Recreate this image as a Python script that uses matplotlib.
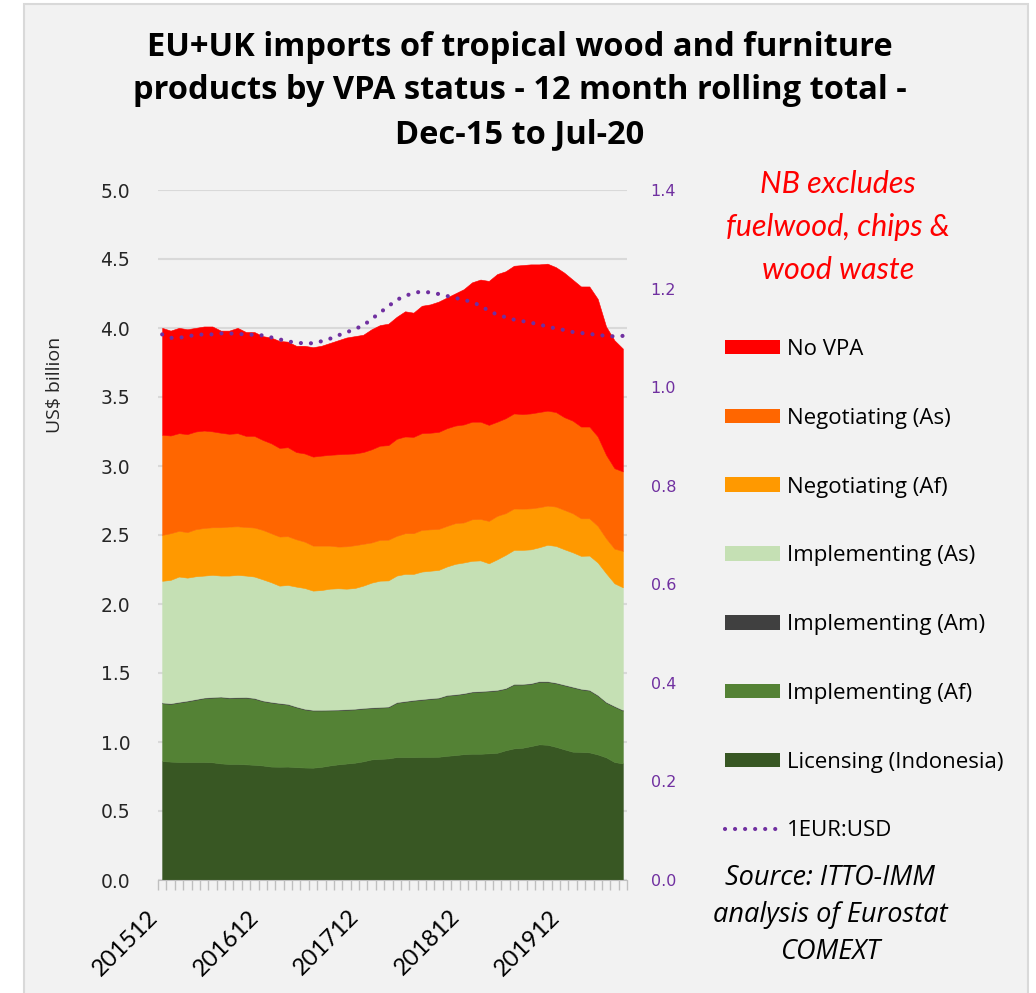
import numpy as np
import matplotlib
matplotlib.use("Agg")
import matplotlib.pyplot as plt
import matplotlib.transforms as mtransforms
from matplotlib.patches import Patch, Rectangle
from matplotlib.lines import Line2D

# 12 month rolling totals, Dec-15 .. Jul-20 (56 months), US$ billion
licensing_indonesia = [
    0.862, 0.858, 0.855, 0.855, 0.855, 0.855, 0.853, 0.845, 0.841, 0.841,
    0.838, 0.835, 0.830, 0.822, 0.821, 0.822, 0.818, 0.815, 0.814, 0.820,
    0.830, 0.838, 0.844, 0.850, 0.860, 0.874, 0.878, 0.881, 0.891, 0.891,
    0.891, 0.892, 0.892, 0.893, 0.900, 0.905, 0.912, 0.915, 0.915, 0.918,
    0.922, 0.940, 0.954, 0.958, 0.970, 0.983, 0.980, 0.965, 0.947, 0.930,
    0.928, 0.925, 0.910, 0.889, 0.855, 0.845]
implementing_af = [
    0.419, 0.418, 0.431, 0.440, 0.451, 0.462, 0.468, 0.479, 0.477, 0.479,
    0.483, 0.479, 0.466, 0.464, 0.457, 0.449, 0.434, 0.421, 0.414, 0.408,
    0.399, 0.392, 0.389, 0.386, 0.382, 0.372, 0.371, 0.371, 0.393, 0.401,
    0.409, 0.414, 0.420, 0.424, 0.436, 0.436, 0.437, 0.446, 0.449, 0.450,
    0.451, 0.446, 0.462, 0.458, 0.451, 0.453, 0.456, 0.461, 0.464, 0.466,
    0.453, 0.448, 0.426, 0.397, 0.401, 0.383]
implementing_am = [0.005] * 56
implementing_as = [
    0.882, 0.894, 0.908, 0.891, 0.890, 0.884, 0.885, 0.877, 0.883, 0.886,
    0.880, 0.880, 0.878, 0.867, 0.850, 0.862, 0.869, 0.875, 0.864, 0.868,
    0.877, 0.879, 0.873, 0.875, 0.886, 0.904, 0.915, 0.914, 0.917, 0.921,
    0.913, 0.924, 0.924, 0.925, 0.931, 0.945, 0.947, 0.947, 0.947, 0.922,
    0.946, 0.965, 0.971, 0.971, 0.970, 0.970, 0.988, 0.990, 0.981, 0.974,
    0.963, 0.973, 0.960, 0.932, 0.889, 0.888]
negotiating_af = [
    0.333, 0.338, 0.331, 0.330, 0.341, 0.345, 0.345, 0.350, 0.355, 0.352,
    0.352, 0.355, 0.358, 0.355, 0.356, 0.353, 0.343, 0.336, 0.326, 0.322,
    0.312, 0.302, 0.307, 0.310, 0.303, 0.291, 0.296, 0.295, 0.288, 0.295,
    0.295, 0.302, 0.300, 0.297, 0.294, 0.295, 0.290, 0.301, 0.300, 0.307,
    0.315, 0.302, 0.300, 0.299, 0.297, 0.290, 0.284, 0.285, 0.285, 0.283,
    0.272, 0.270, 0.265, 0.253, 0.251, 0.264]
negotiating_as = [
    0.725, 0.708, 0.708, 0.710, 0.708, 0.706, 0.695, 0.685, 0.672, 0.675,
    0.660, 0.664, 0.652, 0.652, 0.642, 0.645, 0.632, 0.639, 0.645, 0.652,
    0.658, 0.669, 0.670, 0.665, 0.665, 0.675, 0.682, 0.685, 0.703, 0.701,
    0.698, 0.701, 0.700, 0.703, 0.708, 0.707, 0.710, 0.707, 0.705, 0.696,
    0.682, 0.688, 0.689, 0.685, 0.688, 0.690, 0.688, 0.685, 0.672, 0.671,
    0.665, 0.665, 0.648, 0.605, 0.583, 0.576]
no_vpa = [
    0.775, 0.760, 0.763, 0.760, 0.751, 0.754, 0.760, 0.740, 0.748, 0.763,
    0.753, 0.753, 0.752, 0.766, 0.775, 0.765, 0.770, 0.780, 0.793, 0.796,
    0.810, 0.826, 0.843, 0.850, 0.850, 0.870, 0.874, 0.880, 0.884, 0.907,
    0.900, 0.923, 0.930, 0.944, 0.947, 0.958, 0.980, 1.010, 1.030, 1.043,
    1.070, 1.065, 1.070, 1.080, 1.080, 1.070, 1.065, 1.050, 1.047, 1.022,
    1.015, 1.015, 0.997, 0.930, 0.927, 0.890]
eur_usd = [
    1.107, 1.100, 1.100, 1.103, 1.106, 1.107, 1.107, 1.109, 1.109, 1.108,
    1.107, 1.106, 1.105, 1.101, 1.097, 1.093, 1.090, 1.089, 1.089, 1.093,
    1.098, 1.105, 1.111, 1.118, 1.125, 1.138, 1.151, 1.164, 1.177, 1.185,
    1.191, 1.194, 1.192, 1.189, 1.185, 1.181, 1.177, 1.173, 1.165, 1.155,
    1.147, 1.142, 1.137, 1.134, 1.131, 1.127, 1.123, 1.119, 1.116, 1.112,
    1.110, 1.108, 1.106, 1.104, 1.103, 1.104]

tick_labels = ["201512", "201612", "201712", "201812", "201912"]
tick_pos = [0, 12, 24, 36, 48]

colors = ["#385723", "#548235", "#404040", "#c5e0b4", "#ff9900", "#ff6600", "#ff0000"]
purple = "#7030a0"
dots = (0, (0.01, 2.4))

W, H = 1036, 993
fig = plt.figure(figsize=(W / 100, H / 100), dpi=100, facecolor="white")
fig.patches.append(Rectangle((24 / W, -0.01), 1004 / W, 1 - 4 / H + 0.01,
                             transform=fig.transFigure, facecolor="#f2f2f2",
                             edgecolor="#d9d9d9", lw=1.5, zorder=-10))

ax = fig.add_axes([158 / W, 113 / H, 469 / W, 690 / H])
ax.patch.set_visible(False)
x = np.arange(len(no_vpa))
ax.stackplot(x, licensing_indonesia, implementing_af, implementing_am, implementing_as,
             negotiating_af, negotiating_as, no_vpa, colors=colors,
             edgecolor="face", linewidth=0.4)
ax.set_xlim(-0.5, len(x) - 0.5)
ax.set_ylim(0, 5)
yt = np.arange(0, 5.01, 0.5)
ax.set_yticks(yt)
ax.set_yticklabels([f"{v:.1f}" for v in yt], fontsize=13.5, color="#262626",
                   family="DejaVu Sans")
ax.tick_params(axis="y", length=0, pad=20)
ax.grid(axis="y", color="#d9d9d9", lw=1.5)
ax.set_axisbelow(True)

ax.set_xticks(tick_pos)
ax.set_xticklabels(tick_labels, rotation=45, ha="right", va="top",
                   fontsize=17, family="Lato")
shift = mtransforms.ScaledTranslation(5 / 100, 0, fig.dpi_scale_trans)
for lbl in ax.get_xticklabels():
    lbl.set_transform(lbl.get_transform() + shift)
ax.set_xticks(np.arange(-0.5, len(x), 1), minor=True)
ax.tick_params(axis="x", which="major", length=0, pad=19)
ax.tick_params(axis="x", which="minor", length=7, color="#bfbfbf", width=1)
for s in ["top", "left", "right"]:
    ax.spines[s].set_visible(False)
ax.spines["bottom"].set_color("#bfbfbf")

ax2 = ax.twinx()
ax2.plot(x, eur_usd, color=purple, lw=3, linestyle=dots, dash_capstyle="round")
ax2.set_ylim(0, 1.4)
rt = np.arange(0, 1.41, 0.2)
ax2.set_yticks(rt)
ax2.set_yticklabels([f"{v:.1f}" for v in rt], fontsize=11.5, color=purple,
                    family="DejaVu Sans")
ax2.tick_params(axis="y", length=0, pad=17)
for s in ax2.spines.values():
    s.set_visible(False)

fig.text(55 / W, 1 - 385 / H, "US$ billion", rotation=90, ha="center", va="center",
         fontsize=14, family="Open Sans", color="#262626")

fig.text(520 / W, 1 - 91 / H,
         "EU+UK imports of tropical wood and furniture\n"
         "products by VPA status - 12 month rolling total -\n"
         "Dec-15 to Jul-20",
         ha="center", va="center", fontsize=23.5, fontweight="bold", family="Open Sans",
         linespacing=1.43)

fig.text(838 / W, 1 - 227 / H, "NB excludes\nfuelwood, chips &\nwood waste",
         ha="center", va="center", fontsize=22, style="italic", color="#ff0000",
         family="Lato", linespacing=1.65)

fig.text(830 / W, 1 - 915 / H, "Source: ITTO-IMM\nanalysis of Eurostat\nCOMEXT",
         ha="center", va="center", fontsize=19.5, style="italic", color="black",
         family="Open Sans", linespacing=1.45)

handles = [Patch(facecolor=colors[6]), Patch(facecolor=colors[5]),
           Patch(facecolor=colors[4]), Patch(facecolor=colors[3]),
           Patch(facecolor=colors[2]), Patch(facecolor=colors[1]),
           Patch(facecolor=colors[0]),
           Line2D([], [], color=purple, lw=3, linestyle=dots, dash_capstyle="round")]
labels = ["No VPA", "Negotiating (As)", "Negotiating (Af)", "Implementing (As)",
          "Implementing (Am)", "Implementing (Af)", "Licensing (Indonesia)", "1EUR:USD"]
fig.legend(handles, labels, loc="upper left", bbox_to_anchor=(725 / W, 1 - 339 / H),
           frameon=False, prop={"family": "Open Sans", "size": 16},
           handlelength=2.48, handleheight=0.63, handletextpad=0.32,
           labelspacing=2.15, borderpad=0, borderaxespad=0)

fig.savefig("out.png", dpi=100, facecolor=fig.get_facecolor())
